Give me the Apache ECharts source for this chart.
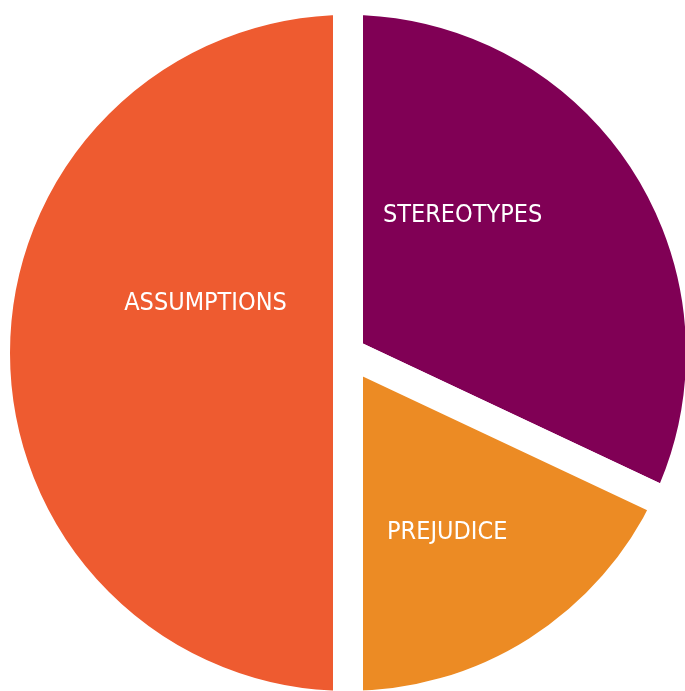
<!DOCTYPE html>
<html>
<head>
<meta charset="utf-8">
<script src="https://cdn.jsdelivr.net/npm/echarts@6/dist/echarts.min.js"></script>
<style>
html,body{margin:0;padding:0;background:#fff;}
#chart{width:685px;height:691px;}
</style>
</head>
<body>
<div id="chart"></div>
<script>
const categories = ['STEREOTYPES', 'PREJUDICE', 'ASSUMPTIONS'];
const values = [32, 18, 50];
const colors = ['#800055', '#EC8B24', '#EE5B30'];
const labelOffsets = [[-37, -41], [3, 28], [37, -50]];

const chart = echarts.init(document.getElementById('chart'), null, {renderer: 'canvas'});
chart.setOption({
  animation: false,
  backgroundColor: '#ffffff',
  series: [{
    type: 'pie',
    center: [348, 353],
    radius: 353,
    startAngle: 90,
    clockwise: true,
    silent: true,
    itemStyle: {borderColor: '#ffffff', borderWidth: 30},
    label: {
      show: true,
      position: 'inside',
      color: '#ffffff',
      fontFamily: "'Liberation Sans Narrow', 'DejaVu Sans Condensed', 'Arial Narrow', sans-serif",
      fontSize: 25
    },
    labelLine: {show: false},
    emphasis: {disabled: true},
    data: categories.map((c, i) => ({
      name: c,
      value: values[i],
      itemStyle: {color: colors[i]},
      label: {offset: labelOffsets[i]}
    }))
  }]
});
</script>
</body>
</html>
